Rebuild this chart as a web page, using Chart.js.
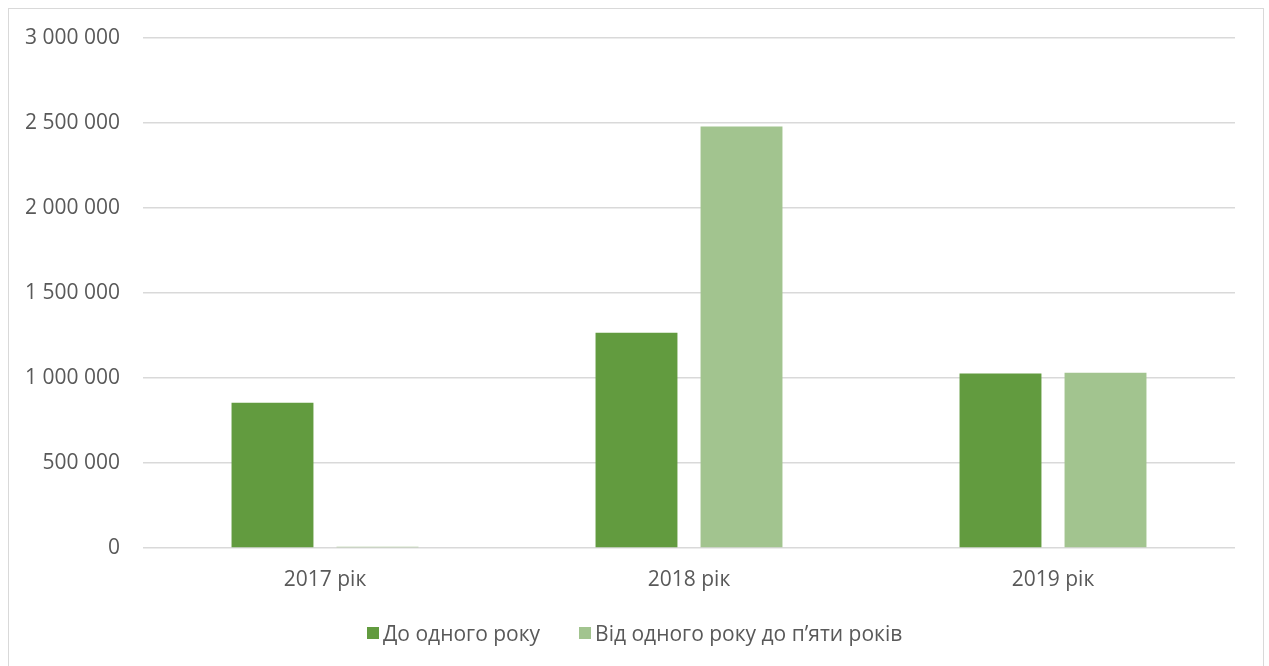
<!DOCTYPE html>
<html lang="uk">
<head>
<meta charset="utf-8">
<script src="https://cdn.jsdelivr.net/npm/chart.js@4"></script>
<style>
    html, body {
        margin: 0;
        padding: 0;
        width: 1269px;
        height: 666px;
        overflow: hidden;
        background: #ffffff;
        font-family: "Open Sans", sans-serif;
    }
    .chart-frame {
        position: absolute;
        left: 8px;
        top: 8px;
        width: 1254px;
        height: 700px;
        border: 1px solid #d9d9d9;
        background: #ffffff;
    }
    .chart-box {
        position: absolute;
        left: 0;
        top: 0;
        width: 1254px;
        height: 620px;
    }
    .legend {
        position: absolute;
        left: 358px;
        top: 610px;
        display: flex;
        align-items: center;
        gap: 39px;
        color: #595959;
        font-size: 21px;
    }
    .legend-item {
        display: flex;
        align-items: center;
        gap: 4px;
    }
    .legend-box {
        width: 12px;
        height: 12px;
    }
</style>
</head>
<body>
<div class="chart-frame">
    <div class="chart-box">
        <canvas id="myChart"></canvas>
    </div>
    <div class="legend" id="legend"></div>
</div>
<script>
const categories = ["2017 рік", "2018 рік", "2019 рік"];
const seriesNames = ["До одного року", "Від одного року до п’яти років"];
const upToOneYear = [854000, 1266000, 1027000];
const oneToFiveYears = [8000, 2479000, 1031000];
const seriesColors = ["#629b3f", "#a2c48f"];
const yMax = 3000000;
const yStep = 500000;

const textColor = "#595959";
const gridColor = "#d9d9d9";

function formatNumber(value) {
    return String(value).replace(/\B(?=(\d{3})+(?!\d))/g, " ");
}

const ctx = document.getElementById("myChart");
const chart = new Chart(ctx, {
    type: "bar",
    data: {
        labels: categories,
        datasets: [
            {
                label: seriesNames[0],
                data: upToOneYear,
                backgroundColor: seriesColors[0]
            },
            {
                label: seriesNames[1],
                data: oneToFiveYears,
                backgroundColor: seriesColors[1]
            }
        ]
    },
    options: {
        responsive: true,
        maintainAspectRatio: false,
        animation: false,
        categoryPercentage: 0.577,
        barPercentage: 0.78,
        layout: {
            padding: { top: 29, right: 28, bottom: 37, left: 0 }
        },
        plugins: {
            legend: { display: false },
            title: { display: false },
            tooltip: { enabled: false }
        },
        scales: {
            x: {
                afterFit: (scale) => {
                    scale.height = 44;
                    scale.paddingLeft = 0;
                    scale.paddingRight = 0;
                },
                grid: { display: false, drawTicks: false },
                border: { display: false },
                ticks: {
                    color: textColor,
                    padding: 19,
                    font: { family: "Open Sans", size: 21 }
                }
            },
            y: {
                min: 0,
                max: yMax,
                afterFit: (scale) => {
                    scale.width = 134;
                    scale.paddingTop = 0;
                    scale.paddingBottom = 0;
                },
                grid: {
                    color: gridColor,
                    lineWidth: 1.5,
                    drawTicks: false
                },
                border: { display: false },
                ticks: {
                    stepSize: yStep,
                    color: textColor,
                    padding: 23,
                    font: { family: "Open Sans", size: 21 },
                    callback: (value) => formatNumber(value)
                }
            }
        }
    }
});

// html legend built from the datasets
const legendEl = document.getElementById("legend");
chart.data.datasets.forEach((ds) => {
    const item = document.createElement("div");
    item.className = "legend-item";
    const box = document.createElement("span");
    box.className = "legend-box";
    box.style.background = ds.backgroundColor;
    const text = document.createElement("span");
    text.textContent = ds.label;
    item.appendChild(box);
    item.appendChild(text);
    legendEl.appendChild(item);
});
</script>
</body>
</html>
